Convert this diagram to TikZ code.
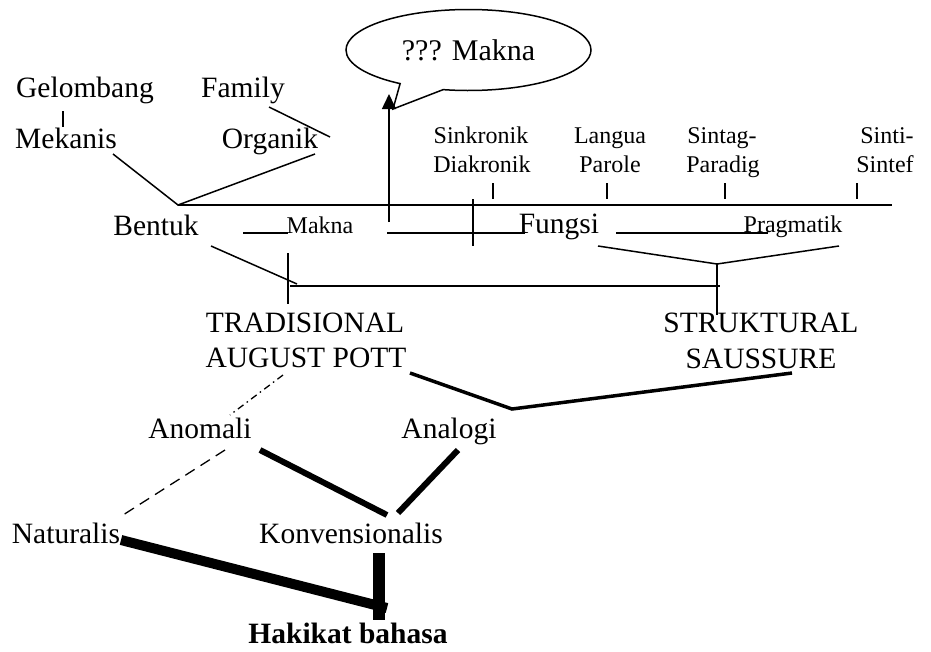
\documentclass[tikz,border=0pt]{standalone}
\usepackage{fontspec}
\setmainfont{Liberation Serif}
\usetikzlibrary{arrows.meta,shapes.callouts,shapes.geometric}
\begin{document}
\begin{tikzpicture}[x=1pt,y=-1pt,
  big/.style={font=\fontsize{29.5}{35}\selectfont, inner sep=0pt, anchor=base},
  small/.style={font=\fontsize{24}{29}\selectfont, inner sep=0pt, anchor=base},
  thin/.style={line width=1.5pt},
  thick3/.style={line width=3.5pt},
  thick6/.style={line width=6pt},
  thick10/.style={line width=10pt},
  thick12/.style={line width=12pt},
  tick/.style={line width=1.5pt}]
\useasboundingbox (0,0) rectangle (931,651);
% texts
\node[big] (gel) at (85,97) {Gelombang};
\node[big] (fam) at (243,97) {Family};
\node[big] (mek) at (66,148) {Mekanis};
\node[big] (org) at (270,148) {Organik};
\node[big] (bent) at (156,235) {Bentuk};
\node[small] (makna) at (320,233) {Makna};
\node[big] (fungsi) at (559,233) {Fungsi};
\node[small] (prag) at (793,232) {Pragmatik};
\node[small] (sink) at (481,143) {Sinkronik};
\node[small] (diak) at (482,172) {Diakronik};
\node[small] (lang) at (610,143) {Langua};
\node[small] (parole) at (610,172) {Parole};
\node[small] (sintag) at (722,143) {Sintag-};
\node[small] (paradig) at (723,172) {Paradig};
\node[small] (sinti) at (887,143) {Sinti-};
\node[small] (sintef) at (885,172) {Sintef};
\node[big] (trad) at (305,332) {TRADISIONAL};
\node[big] (pott) at (306,367) {AUGUST POTT};
\node[big] (strukt) at (761,332) {STRUKTURAL};
\node[big] (sauss) at (761,368) {SAUSSURE};
\node[big] (anom) at (200,438) {Anomali};
\node[big] (analog) at (449,438) {Analogi};
\node[big] (natur) at (66,543) {Naturalis};
\node[big] (konv) at (351,543) {Konvensionalis};
\node[big,font=\fontsize{29.5}{35}\selectfont\bfseries] (hakikat) at (348,643) {Hakikat bahasa};
\node[ellipse callout, draw, line width=1.5pt, minimum width=245pt, minimum height=81pt,
  inner sep=0pt, callout absolute pointer={(393,109)}, callout pointer arc=22,
  font=\fontsize{30}{36}\selectfont] (bubble) at (468.5,50) {??? Makna};
% coordinates
\coordinate (gelA) at (63,111); \coordinate (gelB) at (63,127);
\coordinate (famA) at (269,107); \coordinate (famB) at (330,137);
\coordinate (mekA) at (113,154); \coordinate (orgA) at (315,154);
\coordinate (root) at (178,205); \coordinate (mainR) at (892,205);
\coordinate (t1a) at (493,183); \coordinate (t1b) at (493,199);
\coordinate (t2a) at (607,183); \coordinate (t2b) at (607,199);
\coordinate (t3a) at (725,183); \coordinate (t3b) at (725,199);
\coordinate (t4a) at (857,183); \coordinate (t4b) at (857,199);
\coordinate (mkL) at (243,233); \coordinate (mkR) at (288,233);
\coordinate (mk2L) at (387,233); \coordinate (mk2R) at (525,233);
\coordinate (arrFoot) at (389,222); \coordinate (arrTip) at (389,94);
\coordinate (crossA) at (473,199); \coordinate (crossB) at (473,246);
\coordinate (fgL) at (616,233); \coordinate (fgR) at (768,233);
\coordinate (vL) at (598,246); \coordinate (vM) at (717,264); \coordinate (vR) at (839,246);
\coordinate (vDown) at (717,315);
\coordinate (hL) at (290,286); \coordinate (hR) at (720,286);
\coordinate (bdA) at (211,246); \coordinate (bdB) at (297,284);
\coordinate (trA) at (288,253); \coordinate (trB) at (288,304);
\coordinate (thA) at (410,373); \coordinate (thM) at (512,409); \coordinate (thB) at (792,373);
\coordinate (ddA) at (283,375); \coordinate (ddB) at (230,415);
\coordinate (dsA) at (225,450); \coordinate (dsB) at (123,515);
\coordinate (akA) at (260,450); \coordinate (akB) at (387,515);
\coordinate (ngA) at (458,450); \coordinate (ngB) at (398,513);
\coordinate (nhA) at (121,540); \coordinate (nhB) at (387,608);
\coordinate (kvA) at (379,553); \coordinate (kvB) at (379,620);
% lines
\draw[thin] (gelA) -- (gelB);
\draw[thin] (famA) -- (famB);
\draw[thin] (mekA) -- (root) -- (orgA);
\draw[thin] (root) -- (mainR);
\draw[tick] (t1a) -- (t1b);
\draw[tick] (t2a) -- (t2b);
\draw[tick] (t3a) -- (t3b);
\draw[tick] (t4a) -- (t4b);
\draw[thin] (mkL) -- (mkR);
\draw[thin] (mk2L) -- (mk2R);
\draw[thin,-{Triangle[width=14pt,length=15pt]}] (arrFoot) -- (arrTip);
\draw[thin] (crossA) -- (crossB);
\draw[thin] (fgL) -- (fgR);
\draw[thin] (vL) -- (vM) -- (vR);
\draw[thin] (vM) -- (vDown);
\draw[line width=2pt] (hL) -- (hR);
\draw[thin] (bdA) -- (bdB);
\draw[thin] (trA) -- (trB);
\draw[thick3] (thA) -- (thM) -- (thB);
\draw[line width=1.3pt, dash pattern=on 7pt off 4pt on 1.5pt off 4pt] (ddA) -- (ddB);
\draw[line width=1.3pt, dash pattern=on 11pt off 7pt] (dsA) -- (dsB);
\draw[thick6] (akA) -- (akB);
\draw[thick6] (ngA) -- (ngB);
\draw[thick10] (nhA) -- (nhB);
\draw[thick12] (kvA) -- (kvB);
\end{tikzpicture}
\end{document}
